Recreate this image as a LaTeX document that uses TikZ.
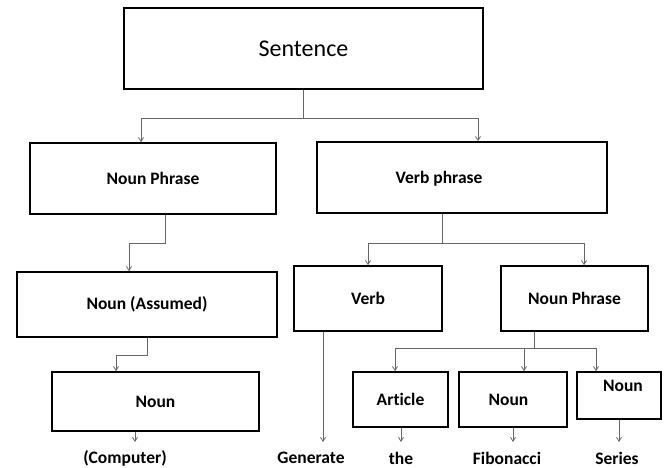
\documentclass[tikz,border=0pt]{standalone}
\usepackage{fontspec}
\setmainfont{Carlito}[Ligatures={NoCommon}]
\usetikzlibrary{arrows.meta}
\begin{document}
\begin{tikzpicture}[x=1pt,y=-1pt,
  box/.style={draw=black,line width=1.6pt,fill=white,inner sep=0pt,font=\bfseries\fontsize{17.5}{20}\selectfont},
  word/.style={inner sep=0pt,font=\bfseries\fontsize{17.5}{20}\selectfont},
  conn/.style={draw=black!60,line width=0.8pt,-{Straight Barb[length=4pt,width=5pt]}},
  link/.style={draw=black!60,line width=0.8pt}]
\useasboundingbox (0,0) rectangle (668,467);

% boxes
\node[box,minimum width=359,minimum height=81,font=\fontsize{24}{28}\selectfont] (s) at (303.5,48.5) {Sentence};
\node[box,minimum width=246,minimum height=71] (np) at (153,178.5) {Noun Phrase};
\node[box,minimum width=290,minimum height=71] (vp) at (462,177.5) {};
\node[word] (vpl) at (439,179) {Verb phrase};
\node[box,minimum width=260,minimum height=65] (na) at (147,304.5) {Noun (Assumed)};
\node[box,minimum width=207,minimum height=59] (n) at (155.5,401.5) {Noun};
\node[box,minimum width=148,minimum height=65] (v) at (368,298.5) {Verb};
\node[box,minimum width=147,minimum height=65] (np2) at (574.5,298.5) {Noun Phrase};
\node[box,minimum width=95,minimum height=55] (art) at (400.5,399.5) {Article};
\node[box,minimum width=108,minimum height=55] (fib) at (513,399.5) {};
\node[word] (fibl) at (508.5,399.5) {Noun};
\node[box,minimum width=84,minimum height=47] (ser) at (619,395.5) {};
\node[word] (serl) at (623,386) {Noun};

% leaf words
\node[word] (comp) at (125,458) {(Computer)};
\node[word] (gen) at (311,458) {Generate};
\node[word] (the) at (401,458) {the};
\node[word] (fibw) at (507,458) {Fibonacci};
\node[word] (serw) at (617,458) {Series};

% branch points
\coordinate (b1) at (303.5,118);
\coordinate (b2) at (442,243);
\coordinate (b3) at (534,348);

% Sentence -> phrases
\draw[link] (s.south) -- (b1);
\draw[conn] (b1) -| ([xshift=-12pt]np.north);
\draw[conn] (b1) -| ([xshift=16pt]vp.north);

% Noun phrase -> Noun (Assumed) -> Noun -> (Computer)
\draw[conn] ([xshift=12pt]np.south) |- (129,243) -- ([xshift=-18pt]na.north);
\draw[conn] (na.south) |- (116,355) -- ([xshift=-39.5pt]n.north);
\coordinate (ce) at (135,442);
\draw[conn] ([xshift=-20.5pt]n.south) -- (ce);

% Verb phrase -> Verb, Noun Phrase
\draw[link] ([xshift=-20pt]vp.south) -- (b2);
\draw[conn] (b2) -| (v.north);
\draw[conn] (b2) -| ([xshift=9.5pt]np2.north);

% Verb -> Generate
\coordinate (ge) at (323,442);
\draw[conn] ([xshift=-45pt]v.south) -- (ge);

% Noun Phrase -> Article, Noun, Noun
\draw[link] ([xshift=-40.5pt]np2.south) -- (b3);
\draw[conn] (b3) -| ([xshift=-5.5pt]art.north);
\draw[conn] (b3) -| ([xshift=11pt]fib.north);
\draw[conn] (b3) -| ([xshift=-23pt]ser.north);

% leaves
\coordinate (te) at (401,442);
\coordinate (fe) at (513,442);
\coordinate (se) at (619,442);
\draw[conn] (art.south -| te) -- (te);
\draw[conn] (fib.south -| fe) -- (fe);
\draw[conn] (ser.south -| se) -- (se);
\end{tikzpicture}
\end{document}
